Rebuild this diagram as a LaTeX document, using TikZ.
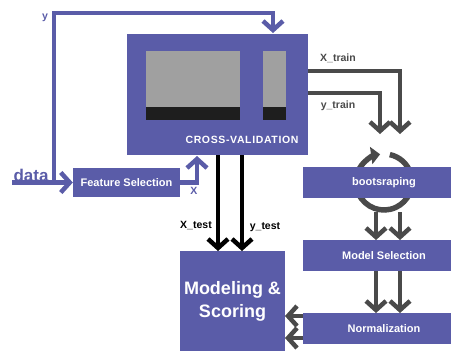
\documentclass[tikz,border=0pt]{standalone}
\usepackage{fontspec}
\setmainfont{Liberation Sans}
\usetikzlibrary{arrows.meta}
\definecolor{cvblue}{HTML}{5A5CA8}
\definecolor{darrow}{HTML}{4A4A4A}
\definecolor{panelgray}{HTML}{A0A0A0}
\definecolor{panelblack}{HTML}{1E1E1E}
\tikzset{
  box/.style={fill=cvblue, draw=none, text=white, font=\bfseries\fontsize{11}{13}\selectfont, inner sep=0pt},
  conn/.style={line width=4.5pt, -{Straight Barb[length=9pt,width=20pt,line width=4.5pt]}},
  blueconn/.style={conn, draw=cvblue},
  grayconn/.style={conn, draw=darrow},
  blackconn/.style={conn, draw=black},
  lab/.style={font=\bfseries\fontsize{10.5}{12}\selectfont, inner sep=0pt}
}
\begin{document}
\begin{tikzpicture}[x=1pt,y=-1pt]
\useasboundingbox (0,0) rectangle (456,351);
% boxes
\node[box, minimum width=181pt, minimum height=121pt] (cv) at (217.5,94.5) {};
\fill[panelgray] (146,51) rectangle (240,107);
\fill[panelblack] (146,107) rectangle (240,120);
\fill[panelgray] (263,51) rectangle (286,107);
\fill[panelblack] (263,107) rectangle (286,120);
\node[text=white, font=\bfseries\fontsize{10.5}{12}\selectfont\addfontfeature{LetterSpace=6}, inner sep=0pt] (cvlabel) at (242,140) {CROSS-VALIDATION};
\node[box, minimum width=107pt, minimum height=29pt] (fs) at (126.5,182.5) {Feature Selection};
\node[box, minimum width=148pt, minimum height=31pt] (ms) at (377,255.5) {\hspace*{14pt}Model Selection};
\node[box, minimum width=148pt, minimum height=31pt] (norm) at (377,328.5) {\hspace*{14pt}Normalization};
\node[box, minimum width=105pt, minimum height=100pt, align=center, font=\bfseries\fontsize{18}{23}\selectfont] (mod) at (232.5,301) {Modeling \&\\Scoring};
% cycle icon
\draw[darrow, line width=5.5pt, -{Triangle[length=9pt,width=17pt]}] (384,182)++(165:28) arc[start angle=165, end angle=262, radius=28];
\draw[darrow, line width=5.5pt] (384,182)++(-78:28) arc[start angle=-78, end angle=15, radius=28];
\draw[darrow, line width=5.5pt] (384,182)++(155:28) arc[start angle=155, end angle=25, radius=28];
\node[box, minimum width=148pt, minimum height=31pt] (boot) at (377,182.5) {\hspace*{14pt}bootsraping};
% coordinates
\coordinate (d0) at (12,182.5);
\coordinate (yb) at (54,182.5);
\coordinate (ytop) at (54,13);
\coordinate (cvin) at (273,33);
\coordinate (cvX) at (197,156);
\coordinate (xt0) at (308,71);
\coordinate (xt1) at (400,134);
\coordinate (yt0) at (308,93);
\coordinate (yt1) at (380,134);
\coordinate (xs0) at (218,155);
\coordinate (xs1) at (218,251);
\coordinate (ys0) at (242,155);
\coordinate (ys1) at (242,251);
\coordinate (b1) at (376,212);
\coordinate (b2) at (400,212);
\coordinate (m1) at (376,240);
\coordinate (m2) at (400,240);
\coordinate (m1b) at (376,271);
\coordinate (m2b) at (400,271);
\coordinate (n1) at (376,313);
\coordinate (n2) at (400,313);
\coordinate (q1) at (303,316);
\coordinate (q2) at (303,338);
\coordinate (r1) at (285,316);
\coordinate (r2) at (285,338);
% connectors
\draw[blueconn] (d0) -- (fs.west);
\draw[blueconn] (yb) -- (ytop) -| (cvin);
\draw[blueconn] (fs.east) -| (cvX);
\draw[grayconn] (xt0) -| (xt1);
\draw[grayconn] (yt0) -| (yt1);
\draw[blackconn] (xs0) -- (xs1);
\draw[blackconn] (ys0) -- (ys1);
\draw[grayconn] (b1) -- (m1);
\draw[grayconn] (b2) -- (m2);
\draw[grayconn] (m1b) -- (n1);
\draw[grayconn] (m2b) -- (n2);
\draw[grayconn] (q1) -- (r1);
\draw[grayconn] (q2) -- (r2);
% labels
\node[text=cvblue, font=\bfseries\fontsize{17}{19}\selectfont, inner sep=0pt] (datal) at (31,175) {data};
\node[lab, text=cvblue] (ylab) at (45,18) {y};
\node[lab, text=cvblue] (xlab) at (194,191) {X};
\node[lab, text=darrow] (xtr) at (338,58) {X\_train};
\node[lab, text=darrow] (ytr) at (338,106) {y\_train};
\node[lab, text=black] (xte) at (196,226) {X\_test};
\node[lab, text=black] (yte) at (265,227) {y\_test};
\end{tikzpicture}
\end{document}
